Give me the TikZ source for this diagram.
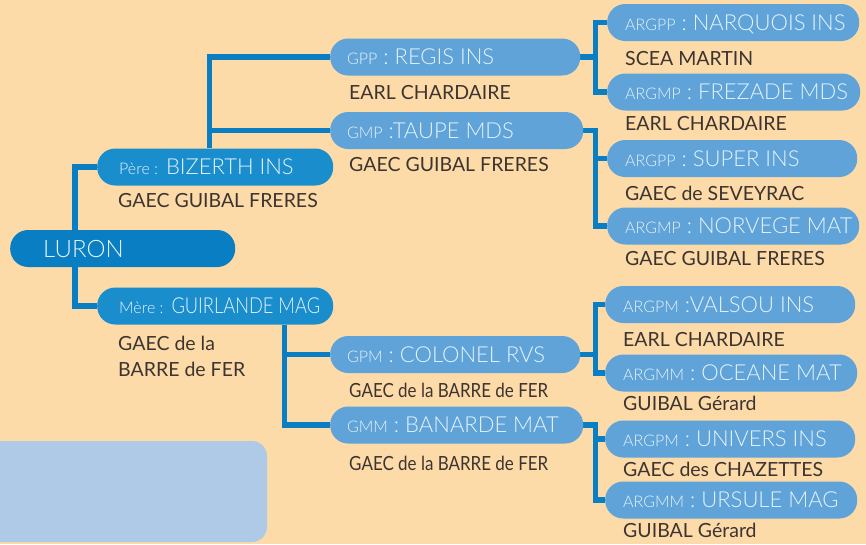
\documentclass[tikz,border=0pt]{standalone}
\usepackage{fontspec}
\setmainfont{Lato}
\newfontfamily\boxfont{Lato Light}
\definecolor{bgpeach}{HTML}{FCDBA8}
\definecolor{lineblue}{HTML}{0A7EC3}
\definecolor{darkpill}{HTML}{0A7EC3}
\definecolor{midpill}{HTML}{1A8DCD}
\definecolor{pillblue}{HTML}{5FA3D8}
\definecolor{boxtext}{HTML}{E6F3FC}
\definecolor{undertext}{HTML}{3D3431}
\definecolor{notebox}{HTML}{AECAE6}
\pgfdeclarelayer{bglayer}
\pgfdeclarelayer{lines}
\pgfsetlayers{bglayer,lines,main}
\newcommand\pfx[1]{{\fontsize{16}{18}\selectfont #1}}
\tikzset{
  conn/.style={draw=lineblue, line width=5.5pt, line join=miter},
  pill/.style={rectangle, rounded corners=18pt, fill=pillblue, minimum height=37pt, inner sep=0pt, anchor=west},
  intext/.style={anchor=west, inner sep=0pt, text height=15.8pt, text depth=0pt, text=boxtext, font=\boxfont\fontsize{22}{26}\selectfont},
  under/.style={anchor=base west, inner sep=0pt, text=undertext, font=\fontsize{19.5}{23}\selectfont},
}
\begin{document}
\begin{tikzpicture}[x=1pt,y=-1pt]
\useasboundingbox (0,0) rectangle (866,544);
\begin{pgfonlayer}{bglayer}
  \fill[bgpeach] (0,0) rectangle (866,544);
  \begin{scope}
    \clip (0,0) rectangle (866,544);
    \fill[notebox, rounded corners=15pt] (-20,441) rectangle (267,542);
  \end{scope}
\end{pgfonlayer}

% generation 0 and 1
\node[pill, fill=darkpill, minimum width=225pt] (luron) at (10,248.5) {};
\node[intext, font=\boxfont\fontsize{24}{28}\selectfont, text height=17.2pt] (luront) at ([xshift=33pt]luron.west) {LURON};

\node[pill, fill=midpill, minimum width=236pt] (pere) at (97,167) {};
\node[intext] (peret) at ([xshift=22pt]pere.west) {\pfx{Père :} BIZERTH INS};
\node[under] (pereu) at (118,207.5) {GAEC GUIBAL FRERES};

\node[pill, fill=midpill, minimum width=236pt] (mere) at (97,306) {};
\node[intext] (meret) at ([xshift=22pt]mere.west) {\pfx{Mère :} \scalebox{0.83}[1]{GUIRLANDE MAG}};
\node[under] (mereu1) at (118,350) {GAEC de la};
\node[under] (mereu2) at (118,376.7) {BARRE de FER};

% generation 2
\node[pill, minimum width=250pt] (gpp) at (330,57) {};
\node[intext] (gppt) at ([xshift=17pt]gpp.west) {\pfx{GPP} : REGIS INS};
\node[under] (gppu) at (349,99) {EARL CHARDAIRE};

\node[pill, minimum width=253pt] (gmp) at (330,130.5) {};
\node[intext] (gmpt) at ([xshift=17pt]gmp.west) {\pfx{GMP} :TAUPE MDS};
\node[under] (gmpu) at (349,171) {GAEC GUIBAL FRERES};

\node[pill, minimum width=250pt] (gpm) at (330,354.5) {};
\node[intext] (gpmt) at ([xshift=17pt]gpm.west) {\pfx{GPM} : COLONEL RVS};
\node[under] (gpmu) at (349,397) {\scalebox{0.87}[1]{GAEC de la BARRE de FER}};

\node[pill, minimum width=253pt] (gmm) at (330,425) {};
\node[intext] (gmmt) at ([xshift=17pt]gmm.west) {\pfx{GMM} : BANARDE MAT};
\node[under] (gmmu) at (349,470) {\scalebox{0.87}[1]{GAEC de la BARRE de FER}};

% generation 3
\node[pill, minimum width=252pt] (narq) at (607,22.5) {};
\node[intext] (narqt) at ([xshift=18pt]narq.west) {\pfx{ARGPP} : NARQUOIS INS};
\node[under] (narqu) at (625,65) {SCEA MARTIN};

\node[pill, minimum width=253pt] (frez) at (607,92) {};
\node[intext] (frezt) at ([xshift=18pt]frez.west) {\pfx{ARGMP} : FREZADE MDS};
\node[under] (frezu) at (625,130) {EARL CHARDAIRE};

\node[pill, minimum width=250pt] (super) at (607,158.5) {};
\node[intext] (supert) at ([xshift=18pt]super.west) {\pfx{ARGPP} : SUPER INS};
\node[under] (superu) at (625,200) {GAEC de SEVEYRAC};

\node[pill, minimum width=252pt] (norv) at (607,226) {};
\node[intext] (norvt) at ([xshift=18pt]norv.west) {\pfx{ARGMP} : NORVEGE MAT};
\node[under] (norvu) at (625,265) {GAEC GUIBAL FRERES};

\node[pill, minimum width=250pt] (vals) at (605,304.5) {};
\node[intext] (valst) at ([xshift=18pt]vals.west) {\pfx{ARGPM} :VALSOU INS};
\node[under] (valsu) at (623,346) {EARL CHARDAIRE};

\node[pill, minimum width=252pt] (ocea) at (605,373) {};
\node[intext] (oceat) at ([xshift=18pt]ocea.west) {\pfx{ARGMM} : OCEANE MAT};
\node[under] (oceau) at (623,410.7) {GUIBAL Gérard};

\node[pill, minimum width=250pt] (univ) at (605,439) {};
\node[intext] (univt) at ([xshift=18pt]univ.west) {\pfx{ARGPM} : UNIVERS INS};
\node[under] (univu) at (623,476) {GAEC des CHAZETTES};

\node[pill, minimum width=252pt] (urs) at (605,500) {};
\node[intext] (urst) at ([xshift=18pt]urs.west) {\pfx{ARGMM} : URSULE MAG};
\node[under] (ursu) at (623,537.3) {GUIBAL Gérard};

% connectors
\coordinate (jL) at (75,0);
\coordinate (jP) at (209.5,0);
\coordinate (jM) at (284.5,0);
\coordinate (jA) at (595.5,0);
\begin{pgfonlayer}{lines}
  \draw[conn] (jL |- luron.north) |- (pere.west);
  \draw[conn] (jL |- luron.south) |- (mere.west);
  \draw[conn] (jP |- pere.north) |- (gpp.west);
  \draw[conn] (jP |- gmp.west) -- (gmp.west);
  \draw[conn] (jM |- mere.south) |- (gmm.west);
  \draw[conn] (jM |- gpm.west) -- (gpm.west);
  \draw[conn] (gpp.east) -- (jA |- gpp.east);
  \draw[conn] (narq.west) -| (jA |- frez.west) -- (frez.west);
  \draw[conn] (gmp.east) -| (jA |- norv.west) -- (norv.west);
  \draw[conn] (jA |- super.west) -- (super.west);
  \draw[conn] (gpm.east) -- (jA |- gpm.east);
  \draw[conn] (vals.west) -| (jA |- ocea.west) -- (ocea.west);
  \draw[conn] (gmm.east) -| (jA |- urs.west) -- (urs.west);
  \draw[conn] (jA |- univ.west) -- (univ.west);
\end{pgfonlayer}
\end{tikzpicture}
\end{document}
